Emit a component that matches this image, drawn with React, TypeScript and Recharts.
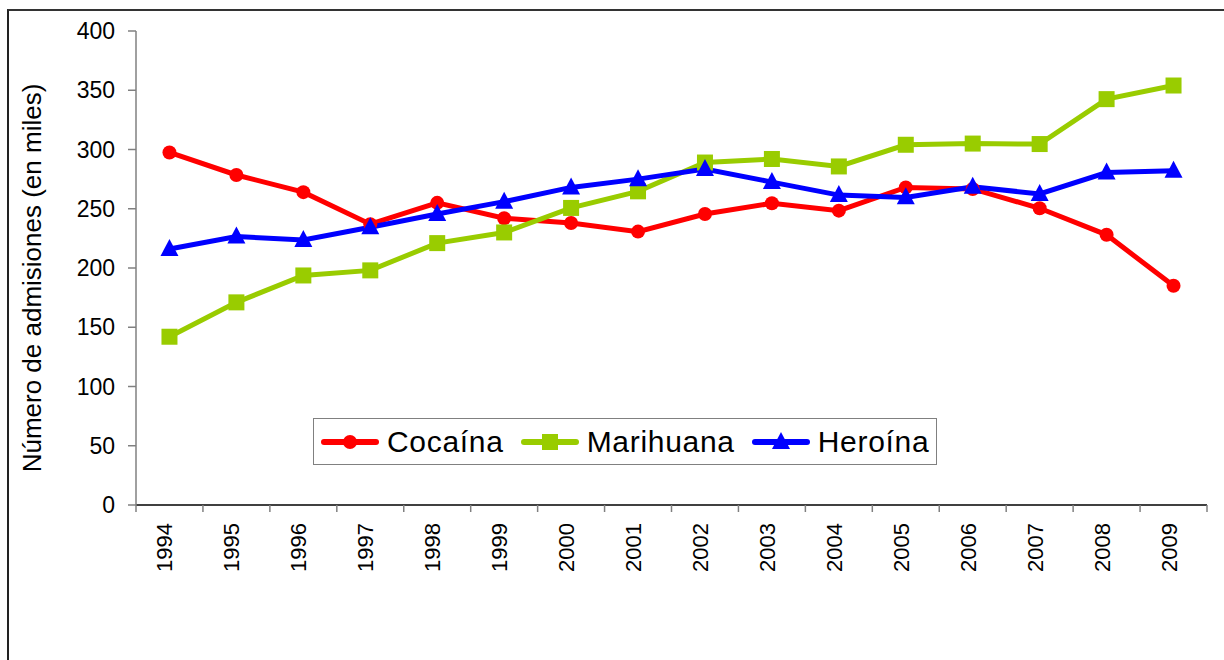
import React from 'react';
import { ComposedChart, Line, XAxis, YAxis, Legend, Label } from 'recharts';

const years = ['1994', '1995', '1996', '1997', '1998', '1999', '2000', '2001', '2002', '2003', '2004', '2005', '2006', '2007', '2008', '2009'];
const cocaina = [297.5, 278.5, 264, 237, 255, 242, 238, 230.7, 245.6, 254.6, 248.4, 268, 266.7, 250.4, 228, 185];
const marihuana = [142, 171, 193.7, 198, 221, 230, 250.7, 264.7, 289, 292, 285.7, 304, 305, 304.6, 342.5, 354];
const heroina = [216, 226.5, 223.7, 234.4, 245.6, 256, 268, 275, 283.5, 272.5, 261.5, 259.6, 268.5, 262.5, 280.5, 282];
const yTicks = [0, 50, 100, 150, 200, 250, 300, 350, 400];
const seriesOrder = ['Cocaína', 'Marihuana', 'Heroína'];

const RED = '#FF0000';
const GREEN = '#99CC00';
const BLUE = '#0000FF';
const FONT = '"Liberation Sans", Arial, sans-serif';

const data = years.map((year, i) => ({
  year,
  cocaina: cocaina[i],
  marihuana: marihuana[i],
  heroina: heroina[i],
}));

function CircleDot({ cx, cy }: any) {
  if (cx == null || cy == null) return null;
  return <circle cx={cx} cy={cy} r={7} fill={RED} />;
}

function SquareDot({ cx, cy }: any) {
  if (cx == null || cy == null) return null;
  return <rect x={cx - 8} y={cy - 8} width={16} height={16} fill={GREEN} />;
}

function TriangleDot({ cx, cy }: any) {
  if (cx == null || cy == null) return null;
  return <polygon points={`${cx},${cy - 10} ${cx + 9},${cy + 7} ${cx - 9},${cy + 7}`} fill={BLUE} />;
}

// Excel-style category axis: tick marks sit between categories
function XTick({ x, y, payload, index }: any) {
  const half = payload?.offset ?? 33.5;
  const last = index === years.length - 1;
  return (
    <g>
      <line x1={x - half} y1={y} x2={x - half} y2={y + 7} stroke="#808080" strokeWidth={1.5} />
      {last && <line x1={x + half} y1={y} x2={x + half} y2={y + 7} stroke="#808080" strokeWidth={1.5} />}
      <text
        x={x + 3}
        y={y + 18}
        transform={`rotate(-90, ${x + 3}, ${y + 18})`}
        textAnchor="end"
        fontSize={22}
        fontFamily={FONT}
        fill="#000"
      >
        {payload.value}
      </text>
    </g>
  );
}

function YTick({ x, y, payload }: any) {
  return (
    <text x={x} y={y} textAnchor="end" dominantBaseline="central" fontSize={23} fontFamily={FONT} fill="#000">
      {payload.value}
    </text>
  );
}

function LegendIcon({ name }: { name: string }) {
  let marker: React.ReactNode = null;
  if (name === 'Cocaína') marker = <circle cx={29} cy={10} r={7} fill={RED} />;
  if (name === 'Marihuana') marker = <rect x={21} y={2} width={16} height={16} fill={GREEN} />;
  if (name === 'Heroína') marker = <polygon points="29,0 38,17 20,17" fill={BLUE} />;
  const color = name === 'Cocaína' ? RED : name === 'Marihuana' ? GREEN : BLUE;
  return (
    <svg width={58} height={20} style={{ display: 'block' }}>
      <line x1={3} y1={10} x2={55} y2={10} stroke={color} strokeWidth={6} strokeLinecap="round" />
      {marker}
    </svg>
  );
}

function renderLegend(props: any) {
  const payload = [...(props.payload || [])].sort(
    (a: any, b: any) => seriesOrder.indexOf(a.value) - seriesOrder.indexOf(b.value)
  );
  return (
    <div
      style={{
        boxSizing: 'border-box',
        width: 624,
        height: 47,
        border: '1.5px solid #808080',
        background: '#fff',
        display: 'flex',
        alignItems: 'center',
        paddingLeft: 7,
        fontFamily: FONT,
        fontSize: 30,
        letterSpacing: 0.7,
        color: '#000',
        whiteSpace: 'nowrap',
      }}
    >
      {payload.map((entry: any) => (
        <div key={entry.value} style={{ display: 'flex', alignItems: 'center', marginRight: 17 }}>
          <LegendIcon name={entry.value} />
          <span style={{ marginLeft: 8 }}>{entry.value}</span>
        </div>
      ))}
    </div>
  );
}

export default function App() {
  return (
    <div style={{ position: 'absolute', left: 0, top: 0, width: 1224, height: 660, overflow: 'hidden', background: '#fff' }}>
      <div
        style={{
          position: 'absolute',
          left: 7,
          top: 9,
          width: 1220,
          height: 660,
          borderTop: '2px solid #333',
          borderLeft: '2px solid #222',
        }}
      />
      <div style={{ position: 'absolute', left: 0, top: 0 }}>
        <ComposedChart width={1224} height={660} data={data} margin={{ top: 31, right: 17, bottom: 90, left: 0 }}>
          <XAxis
            dataKey="year"
            scale="band"
            height={65}
            tickLine={false}
            tickSize={0}
            tickMargin={0}
            interval={0}
            axisLine={{ stroke: '#000', strokeWidth: 1.5 }}
            tick={<XTick />}
          />
          <YAxis
            type="number"
            domain={[0, 400]}
            ticks={yTicks}
            width={136}
            tickSize={8}
            tickMargin={13}
            interval={0}
            axisLine={{ stroke: '#808080', strokeWidth: 1.5 }}
            tickLine={{ stroke: '#808080', strokeWidth: 1.5 }}
            tick={<YTick />}
          >
            <Label
              content={({ viewBox }: any) => {
                const cx = viewBox.x + 32;
                const cy = viewBox.y + viewBox.height / 2 + 10;
                return (
                  <text
                    x={cx}
                    y={cy}
                    transform={`rotate(-90, ${cx}, ${cy})`}
                    textAnchor="middle"
                    dominantBaseline="central"
                    fontSize={26}
                    fontFamily={FONT}
                    fill="#000"
                  >
                    Número de admisiones (en miles)
                  </text>
                );
              }}
            />
          </YAxis>
          <Legend
            layout="horizontal"
            verticalAlign="middle"
            align="center"
            content={renderLegend}
            wrapperStyle={{ left: 313, top: 418, width: 624, height: 47 }}
          />
          <Line
            name="Cocaína"
            dataKey="cocaina"
            stroke={RED}
            strokeWidth={5}
            dot={<CircleDot />}
            activeDot={false}
            isAnimationActive={false}
          />
          <Line
            name="Marihuana"
            dataKey="marihuana"
            stroke={GREEN}
            strokeWidth={5}
            dot={<SquareDot />}
            activeDot={false}
            isAnimationActive={false}
          />
          <Line
            name="Heroína"
            dataKey="heroina"
            stroke={BLUE}
            strokeWidth={5}
            dot={<TriangleDot />}
            activeDot={false}
            isAnimationActive={false}
          />
        </ComposedChart>
      </div>
    </div>
  );
}
